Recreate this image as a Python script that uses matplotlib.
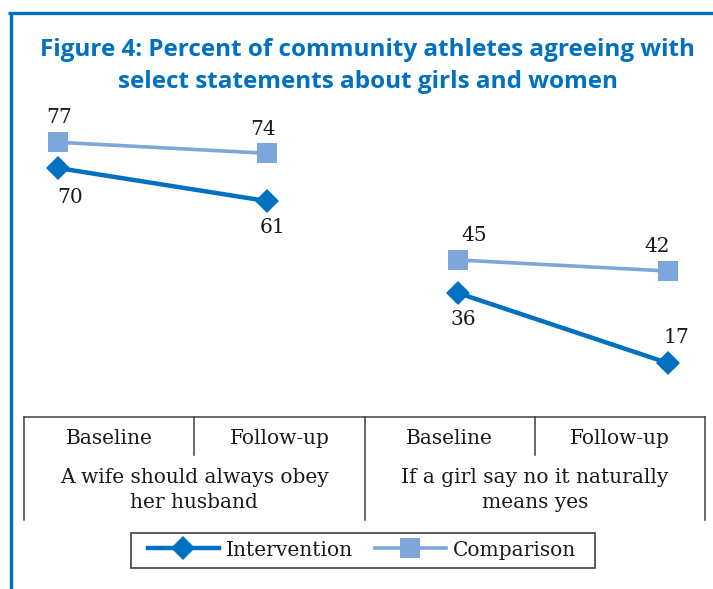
import matplotlib
matplotlib.use("Agg")
import matplotlib.pyplot as plt
from matplotlib.lines import Line2D
from matplotlib.patches import Rectangle

# ---------------------------------- DATA ----------------------------------

statements = ["A wife should always obey\nher husband",
              "If a girl say no it naturally\nmeans yes"]
rounds = ["Baseline", "Follow-up", "Baseline", "Follow-up"]

intervention = [70, 61, 36, 17]
comparison = [77, 74, 45, 42]

TITLE = "Figure 4: Percent of community athletes agreeing with\nselect statements about girls and women"

# ---------------------------------- STYLE ---------------------------------

W, H = 713, 589
DPI = 100
BLUE = "#0070C0"
LIGHT = "#7DA6DA"
SERIF = "DejaVu Serif"
FS = 14.5

# x position of each point inside its slot (slots are 1 unit wide)
x_pos = [0.20, 1.43, 2.55, 3.78]
# label offsets in pixels (dx, dy), dy positive = down
int_off = [(12, 29), (5, 26), (5, 26), (9, -25)]
cmp_off = [(1, -25), (-4, -24), (16, -24), (-10, -25)]


def fx(x):
    return x / W


def fy(y):
    return 1 - y / H


fig = plt.figure(figsize=(W / DPI, H / DPI), dpi=DPI)

# overlay for frame and table (pixel coords)
ov = fig.add_axes([0, 0, 1, 1])
ov.set_xlim(0, W)
ov.set_ylim(H, 0)
ov.axis("off")

# blue frame
ov.plot([8, W], [13, 13], color=BLUE, lw=2.4, solid_capstyle="butt")
ov.plot([11, 11], [12, H], color=BLUE, lw=2.4, solid_capstyle="butt")

# title
fig.text(fx(368), fy(66), TITLE, ha="center", va="center", color=BLUE,
         fontsize=17.5, fontweight="bold", family="Open Sans", linespacing=1.5)

# plot area
ax = fig.add_axes([fx(24), fy(417), (705 - 24) / W, (417 - 100) / H])
ax.set_xlim(0, 4)
ax.set_ylim(2.3, 88.5)
ax.axis("off")

for g in range(2):
    sl = slice(2 * g, 2 * g + 2)
    ax.plot(x_pos[sl], intervention[sl], color=BLUE, lw=3.2,
            marker="D", markersize=12, markeredgewidth=0, clip_on=False)
    ax.plot(x_pos[sl], comparison[sl], color=LIGHT, lw=2.6,
            marker="s", markersize=14, markeredgewidth=0, clip_on=False)

for xv, v, (dx, dy) in zip(x_pos, intervention, int_off):
    ax.annotate(str(v), (xv, v), xytext=(dx * 0.72, -dy * 0.72),
                textcoords="offset points", ha="center", va="center",
                family=SERIF, fontsize=FS, color="#1a1a1a")
for xv, v, (dx, dy) in zip(x_pos, comparison, cmp_off):
    ax.annotate(str(v), (xv, v), xytext=(dx * 0.72, -dy * 0.72),
                textcoords="offset points", ha="center", va="center",
                family=SERIF, fontsize=FS, color="#1a1a1a")

# category table under the plot
tl, tr = 24, 705
slot = (tr - tl) / 4
top, mid, bot = 417, 455, 520
tk = dict(color="#404040", lw=1.1)
ov.plot([tl, tr], [top, top], **tk)
for i in range(5):
    xx = tl + i * slot
    ov.plot([xx, xx], [top, bot if i % 2 == 0 else mid], **tk)
for i, lab in enumerate(rounds):
    ov.text(tl + (i + 0.5) * slot, 438, lab, ha="center", va="center",
            family=SERIF, fontsize=FS, color="#1a1a1a")
for g, lab in enumerate(statements):
    ov.text(tl + (2 * g + 1) * slot, 490, lab, ha="center", va="center",
            family=SERIF, fontsize=FS, color="#1a1a1a", linespacing=1.4)

# legend (frame drawn separately to get the wide side padding)
ov.add_patch(Rectangle((131, 533), 595 - 131, 568 - 533, fill=False,
                       edgecolor="#404040", lw=1.2))
handles = [Line2D([], [], color=BLUE, lw=3.2, marker="D", markersize=12, markeredgewidth=0),
           Line2D([], [], color=LIGHT, lw=2.6, marker="s", markersize=14, markeredgewidth=0)]
leg = fig.legend(handles, ["Intervention", "Comparison"], loc="center",
                 bbox_to_anchor=(fx(362), fy(550)), ncol=2, frameon=False,
                 handlelength=3.5, handletextpad=0.35, columnspacing=1.1,
                 borderpad=0.25, prop={"family": SERIF, "size": FS})
for t in leg.get_texts():
    t.set_color("#1a1a1a")

fig.savefig("out.png", dpi=DPI)
